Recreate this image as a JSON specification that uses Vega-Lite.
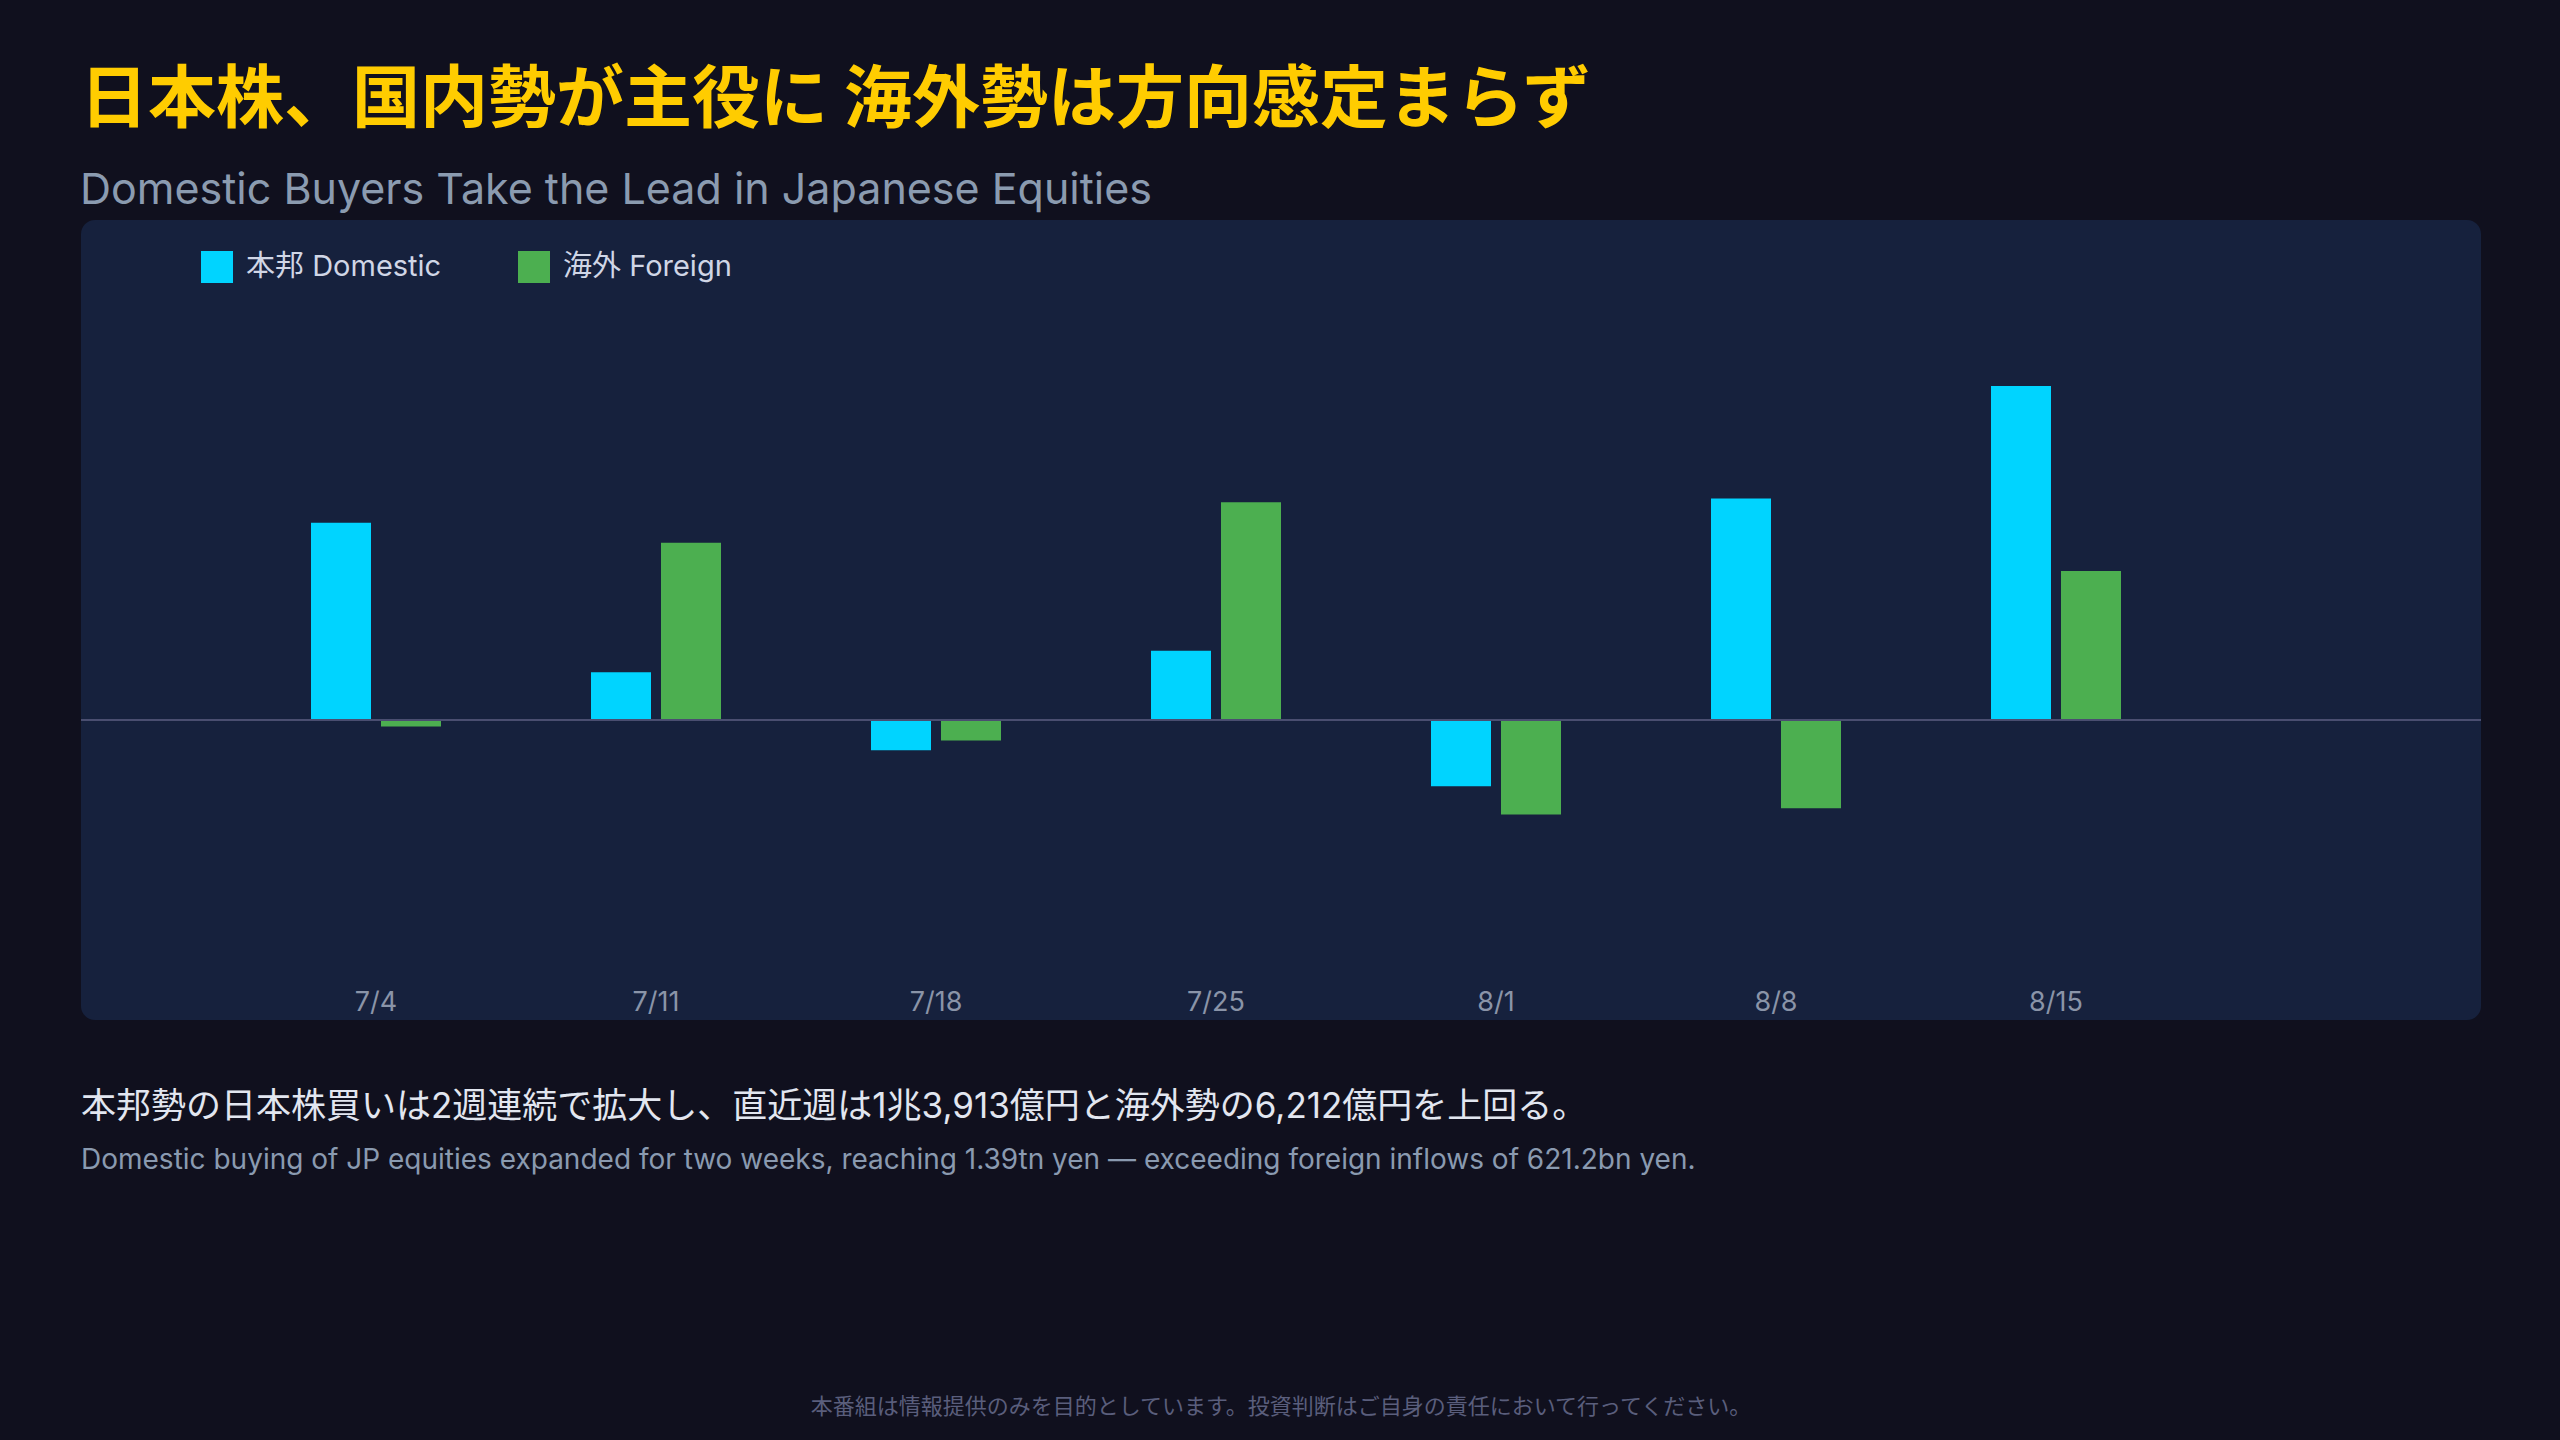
{
  "$schema": "https://vega.github.io/schema/vega-lite/v6.json",
  "background": "#10101e",
  "padding": {"left": 80, "right": 80, "top": 68, "bottom": 40},
  "title": {
    "text": "本番組は情報提供のみを目的としています。投資判断はご自身の責任において行ってください。",
    "orient": "bottom",
    "anchor": "middle",
    "fontSize": 22,
    "fontWeight": "normal",
    "color": "#5a5e7c",
    "offset": 12
  },
  "spacing": 70,
  "vconcat": [
    {
      "title": {
        "text": "日本株、国内勢が主役に 海外勢は方向感定まらず",
        "subtitle": "Domestic Buyers Take the Lead in Japanese Equities",
        "anchor": "start",
        "fontSize": 68,
        "fontWeight": "bold",
        "color": "#ffcc00",
        "subtitleFontSize": 43,
        "subtitleColor": "#8b9bb0",
        "subtitlePadding": 34,
        "offset": 7
      },
      "width": 2400,
      "height": 800,
      "view": {"fill": "#16213d", "stroke": null, "cornerRadius": 14},
      "data": {
        "values": [
          {"week": "7/4", "series": "本邦 Domestic", "value": 8220},
          {"week": "7/4", "series": "海外 Foreign", "value": -270},
          {"week": "7/11", "series": "本邦 Domestic", "value": 1990},
          {"week": "7/11", "series": "海外 Foreign", "value": 7390},
          {"week": "7/18", "series": "本邦 Domestic", "value": -1260},
          {"week": "7/18", "series": "海外 Foreign", "value": -850},
          {"week": "7/25", "series": "本邦 Domestic", "value": 2890},
          {"week": "7/25", "series": "海外 Foreign", "value": 9070},
          {"week": "8/1", "series": "本邦 Domestic", "value": -2760},
          {"week": "8/1", "series": "海外 Foreign", "value": -3940},
          {"week": "8/8", "series": "本邦 Domestic", "value": 9230},
          {"week": "8/8", "series": "海外 Foreign", "value": -3680},
          {"week": "8/15", "series": "本邦 Domestic", "value": 13913},
          {"week": "8/15", "series": "海外 Foreign", "value": 6212}
        ]
      },
      "layer": [
        {
          "mark": {"type": "bar"},
          "encoding": {
            "x": {
              "field": "week",
              "type": "nominal",
              "sort": null,
              "scale": {"paddingInner": 0.4285714, "paddingOuter": 1, "align": 0.3839286, "round": false},
              "axis": {
                "title": null,
                "labelAngle": 0,
                "labelFontSize": 27,
                "labelColor": "#8a94a8",
                "domain": false,
                "ticks": false,
                "grid": false,
                "offset": -18,
                "labelPadding": 0,
                "labelBaseline": "middle"
              }
            },
            "xOffset": {
              "field": "series",
              "sort": ["本邦 Domestic", "海外 Foreign"],
              "scale": {"paddingInner": 0.142857, "paddingOuter": 0.2142857}
            },
            "y": {
              "field": "value",
              "type": "quantitative",
              "scale": {"domain": [-12500, 20833], "nice": false, "zero": false},
              "axis": null
            },
            "color": {
              "field": "series",
              "type": "nominal",
              "sort": ["本邦 Domestic", "海外 Foreign"],
              "scale": {"domain": ["本邦 Domestic", "海外 Foreign"], "range": ["#00d4ff", "#4caf50"]},
              "legend": {
                "orient": "none",
                "legendX": 120,
                "legendY": 31,
                "direction": "horizontal",
                "title": null,
                "symbolType": "square",
                "symbolSize": 1024,
                "symbolStrokeWidth": 0,
                "symbolOpacity": 1,
                "labelFontSize": 29,
                "labelColor": "#d0d6e6",
                "labelLimit": 500,
                "labelOffset": 13,
                "columnPadding": 76
              }
            }
          }
        },
        {
          "data": {"values": [{"base": 0}]},
          "mark": {"type": "rule", "color": "#4a4e70", "strokeWidth": 2},
          "encoding": {
            "y": {"field": "base", "type": "quantitative", "scale": {"domain": [-12500, 20833], "nice": false, "zero": false}}
          }
        }
      ]
    },
    {
      "title": {
        "text": "本邦勢の日本株買いは2週連続で拡大し、直近週は1兆3,913億円と海外勢の6,212億円を上回る。",
        "subtitle": "Domestic buying of JP equities expanded for two weeks, reaching 1.39tn yen — exceeding foreign inflows of 621.2bn yen.",
        "anchor": "start",
        "fontSize": 35,
        "fontWeight": "normal",
        "color": "#e2e6f0",
        "subtitleFontSize": 28,
        "subtitleColor": "#8a9ab0",
        "subtitlePadding": 22,
        "offset": 10
      },
      "width": 2400,
      "height": 200,
      "view": {"stroke": null},
      "data": {"values": []},
      "mark": "point"
    }
  ],
  "config": {
    "font": "Inter, 'Noto Sans CJK JP'",
    "view": {"stroke": null},
    "title": {"font": "Inter, 'Noto Sans CJK JP'", "subtitleFont": "Inter, 'Noto Sans CJK JP'"},
    "axis": {"labelFont": "Inter, 'Noto Sans CJK JP'"},
    "legend": {"labelFont": "Inter, 'Noto Sans CJK JP'"}
  }
}
